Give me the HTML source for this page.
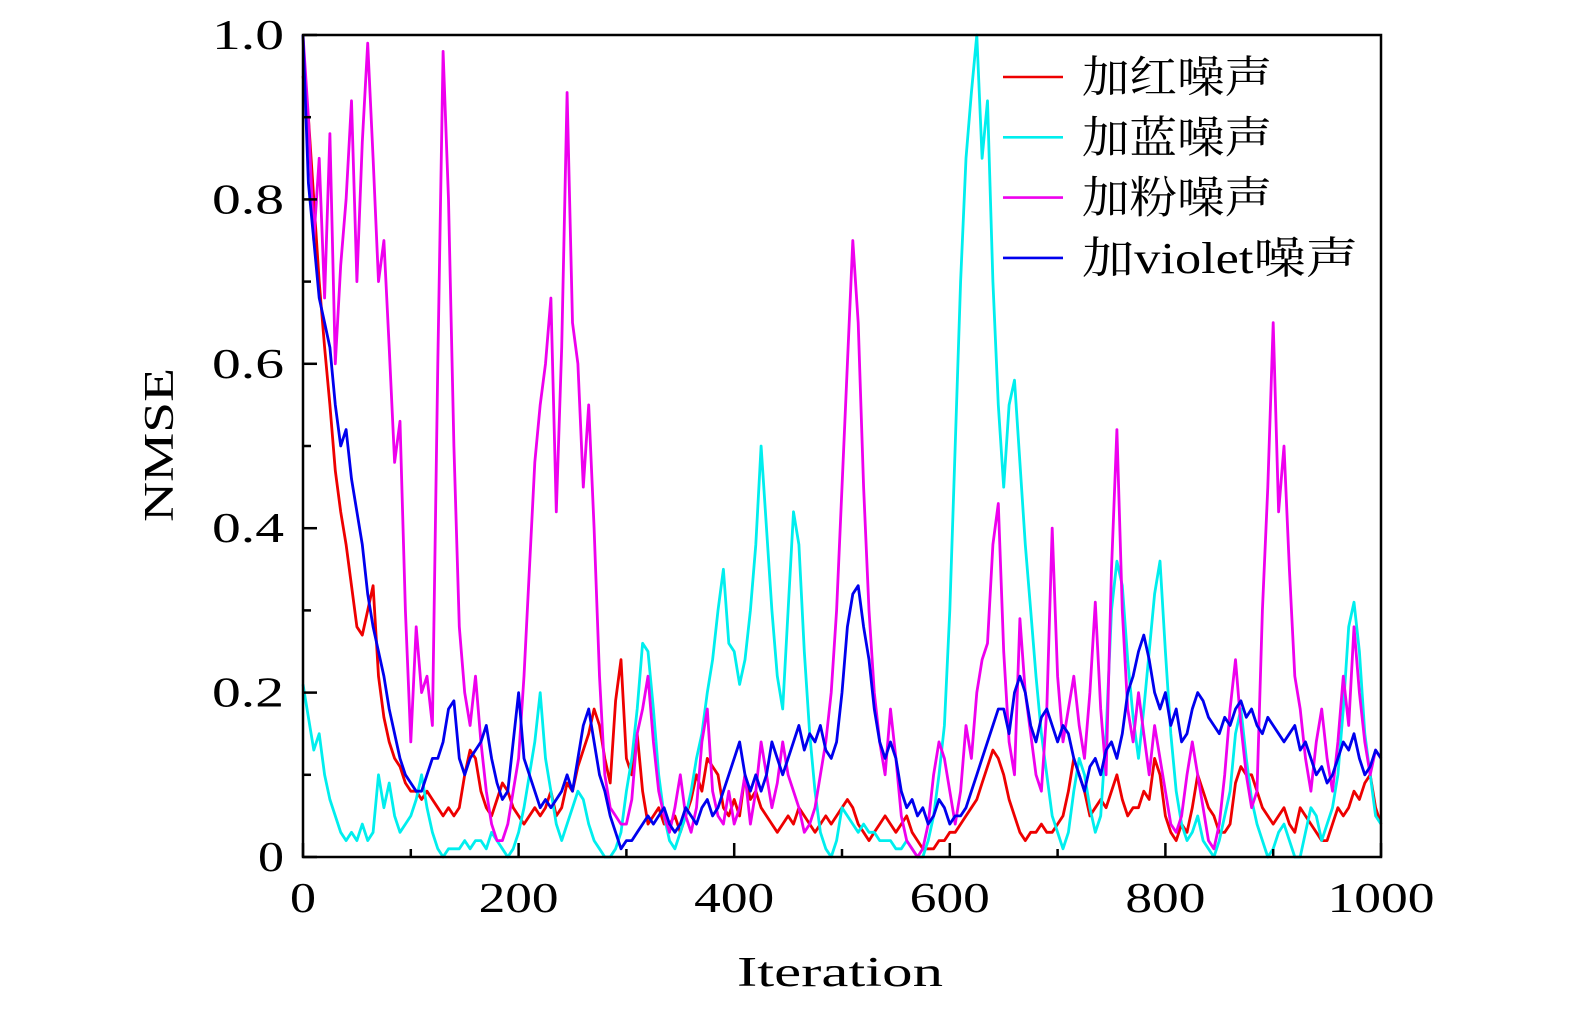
<!DOCTYPE html>
<html><head><meta charset="utf-8"><style>
html,body{margin:0;padding:0;background:#fff;}
svg{display:block;font-family:"Liberation Serif","Noto Serif CJK SC",serif;}
</style></head><body>
<svg id="chart" width="1575" height="1014" viewBox="0 0 1575 1014" xmlns="http://www.w3.org/2000/svg">
<g id="series"></g>
<g id="axes"></g>
<g id="legend"></g>
</svg>
<script>
const iterStep = 5;
const xTicks = [0,200,400,600,800,1000];
const xTickLabels = ["0","200","400","600","800","1000"];
const yTicks = [0,0.2,0.4,0.6,0.8,1.0];
const yTickLabels = ["0","0.2","0.4","0.6","0.8","1.0"];
const seriesNames = ["加红噪声","加蓝噪声","加粉噪声","加violet噪声"];
const seriesColors = ["#ee0000","#00eeee","#ee00ee","#0000ee"];
const redValues = [
.95,.90,.80,.70,.62, .55,.47,.42,.38,.33, .28,.27,.30,.33,.22, .17,.14,.12,.11,.09,
.08,.08,.07,.08,.07, .06,.05,.06,.05,.06, .10,.13,.12,.08,.06, .05,.07,.09,.08,.06,
.05,.04,.05,.06,.05, .06,.08,.05,.06,.09, .08,.11,.13,.15,.18, .16,.12,.09,.19,.24,
.12,.10,.15,.08,.04, .05,.06,.04,.04,.05, .03,.05,.07,.10,.08, .12,.11,.10,.06,.05,
.07,.05,.10,.07,.08, .06,.05,.04,.03,.04, .05,.04,.06,.05,.04, .03,.04,.05,.04,.05,
.06,.07,.06,.04,.03, .02,.03,.04,.05,.04, .03,.04,.05,.03,.02, .01,.01,.01,.02,.02,
.03,.03,.04,.05,.06, .07,.09,.11,.13,.12, .10,.07,.05,.03,.02, .03,.03,.04,.03,.03,
.04,.05,.08,.12,.10, .08,.05,.06,.07,.06, .08,.10,.07,.05,.06, .06,.08,.07,.12,.10,
.05,.03,.02,.04,.03, .06,.10,.08,.06,.05, .03,.03,.04,.09,.11, .10,.10,.08,.06,.05,
.04,.05,.06,.04,.03, .06,.05,.04,.03,.02, .02,.04,.06,.05,.06, .08,.07,.09,.10,.06,
.04];
const blueNoiseValues = [
.21,.17,.13,.15,.10, .07,.05,.03,.02,.03, .02,.04,.02,.03,.10, .06,.09,.05,.03,.04,
.05,.07,.10,.06,.03, .01,.00,.01,.01,.01, .02,.01,.02,.02,.01, .03,.02,.01,.00,.01,
.03,.06,.10,.14,.20, .12,.08,.04,.02,.04, .06,.08,.07,.04,.02, .01,.00,.00,.01,.03,
.08,.12,.18,.26,.25, .18,.10,.05,.02,.01, .03,.05,.08,.12,.15, .20,.24,.30,.35,.26,
.25,.21,.24,.30,.38, .50,.40,.30,.22,.18, .30,.42,.38,.25,.15, .08,.03,.01,.00,.02,
.06,.05,.04,.03,.04, .03,.03,.02,.02,.02, .01,.01,.02,.01,.00, .00,.02,.05,.10,.16,
.30,.50,.70,.85,.93, 1.0,.85,.92,.70,.55, .45,.55,.58,.48,.38, .30,.22,.15,.10,.05,
.03,.01,.03,.08,.12, .10,.06,.03,.05,.15, .30,.36,.33,.24,.17, .12,.18,.25,.32,.36,
.25,.15,.08,.04,.02, .03,.05,.02,.01,.00, .02,.05,.08,.15,.18, .12,.07,.04,.02,.00,
.01,.03,.04,.02,.00, .00,.03,.06,.05,.02, .04,.06,.10,.18,.28, .31,.25,.15,.10,.05,
.04];
const pinkValues = [
1.0,.90,.75,.85,.68, .88,.60,.72,.80,.92, .70,.87,.99,.85,.70, .75,.62,.48,.53,.30,
.14,.28,.20,.22,.16, .60,.98,.80,.50,.28, .20,.16,.22,.14,.08, .04,.02,.02,.04,.08,
.12,.22,.35,.48,.55, .60,.68,.42,.62,.93, .65,.60,.45,.55,.40, .22,.10,.06,.05,.04,
.04,.07,.15,.18,.22, .14,.08,.05,.03,.06, .10,.05,.03,.06,.14, .18,.08,.05,.04,.08,
.04,.06,.10,.04,.08, .14,.10,.06,.09,.14, .10,.08,.06,.03,.04, .06,.10,.14,.20,.30,
.45,.60,.75,.65,.45, .30,.20,.14,.10,.18, .12,.05,.02,.01,.00, .01,.04,.10,.14,.12,
.08,.04,.08,.16,.12, .20,.24,.26,.38,.43, .25,.14,.10,.29,.20, .15,.10,.08,.18,.40,
.22,.14,.18,.22,.16, .12,.20,.31,.18,.10, .35,.52,.30,.18,.14, .20,.15,.10,.16,.12,
.08,.04,.03,.05,.10, .14,.10,.06,.02,.01, .04,.10,.18,.24,.16, .10,.06,.08,.30,.45,
.65,.42,.50,.35,.22, .18,.12,.08,.14,.18, .12,.08,.14,.22,.16, .28,.20,.14,.10,.13,
.12];
const violetValues = [
1.0,.82,.75,.68,.65, .62,.55,.50,.52,.46, .42,.38,.32,.28,.25, .22,.18,.15,.12,.10,
.09,.08,.08,.10,.12, .12,.14,.18,.19,.12, .10,.12,.13,.14,.16, .12,.09,.07,.08,.14,
.20,.12,.10,.08,.06, .07,.06,.07,.08,.10, .08,.12,.16,.18,.14, .10,.08,.05,.03,.01,
.02,.02,.03,.04,.05, .04,.05,.06,.04,.03, .04,.06,.05,.04,.06, .07,.05,.06,.08,.10,
.12,.14,.10,.08,.10, .08,.10,.14,.12,.10, .12,.14,.16,.13,.15, .14,.16,.13,.12,.14,
.20,.28,.32,.33,.28, .24,.18,.14,.12,.14, .12,.08,.06,.07,.05, .06,.04,.05,.07,.06,
.04,.05,.05,.06,.08, .10,.12,.14,.16,.18, .18,.15,.20,.22,.20, .16,.14,.17,.18,.16,
.14,.16,.15,.12,.10, .08,.11,.12,.10,.13, .14,.12,.15,.20,.22, .25,.27,.24,.20,.18,
.20,.16,.18,.14,.15, .18,.20,.19,.17,.16, .15,.17,.16,.18,.19, .17,.18,.16,.15,.17,
.16,.15,.14,.15,.16, .13,.14,.12,.10,.11, .09,.10,.12,.14,.13, .15,.12,.10,.11,.13,
.12];
const allSeries = [redValues, blueNoiseValues, pinkValues, violetValues];
const seriesKeys = ["red-noise","blue-noise","pink-noise","violet-noise"];

const X0=303, X1=1381, Y0=857, Y1=35;
const xScale = v => X0 + (v/1000)*(X1-X0);
const yScale = v => Y0 - (v/1.0)*(Y0-Y1);
const NS="http://www.w3.org/2000/svg";
function mk(tag, attrs, parent){const e=document.createElementNS(NS,tag);for(const k in attrs)e.setAttribute(k,attrs[k]);parent.appendChild(e);return e;}
function fitW(s){return s.length===1?26:(s.length===3?72:104);}

const sg=document.getElementById('series');
allSeries.forEach((vals,si)=>{
  const pts=vals.map((v,i)=>xScale(i*iterStep).toFixed(1)+','+yScale(v).toFixed(1)).join(' ');
  const pl=mk('polyline',{points:pts,fill:'none',stroke:seriesColors[si],'stroke-width':2.8,'stroke-linejoin':'round'},sg);
  
  
});

const ag=document.getElementById('axes');
const frame=mk('rect',{x:X0,y:Y1,width:X1-X0,height:Y0-Y1,fill:'none',stroke:'#000','stroke-width':2.5},ag);


for(let v=0; v<=1000; v+=100){
  const major = v%200===0;
  const t=mk('line',{x1:xScale(v),x2:xScale(v),y1:Y0,y2:Y0-(major?14:8),stroke:'#000','stroke-width':2.5},ag);
  
  
}
for(let k=0;k<=10;k++){
  const v=k/10, major=k%2===0;
  const t=mk('line',{x1:X0,x2:X0+(major?14:8),y1:yScale(v),y2:yScale(v),stroke:'#000','stroke-width':2.5},ag);
  
  
}
xTicks.forEach((v,i)=>{
  const s=xTickLabels[i], w=s.length===1?26:(s.length===3?80:107);
  const t=mk('text',{x:xScale(v)-w/2,y:912,'font-size':42,textLength:w,lengthAdjust:'spacingAndGlyphs'},ag);
  t.textContent=s;
  
  
});
yTicks.forEach((v,i)=>{
  const s=yTickLabels[i], w=fitW(s);
  const t=mk('text',{x:284-w,y:yScale(v)+14,'font-size':42,textLength:w,lengthAdjust:'spacingAndGlyphs'},ag);
  t.textContent=s;
  
  
});
const xt=mk('text',{x:737,y:986,'font-size':42,textLength:206,lengthAdjust:'spacingAndGlyphs'},ag);
xt.textContent='Iteration';


const yt=mk('text',{x:-77,y:0,'font-size':42,textLength:154,lengthAdjust:'spacingAndGlyphs',transform:'translate(173,445) rotate(-90)'},ag);
yt.textContent='NMSE';



const legendWidths=[190,190,190,276];
const lg=document.getElementById('legend');
seriesNames.forEach((n,i)=>{
  const y=77+i*60.3;
  const g=mk('g',{},lg);
  
  
  mk('line',{x1:1003,x2:1063,y1:y,y2:y,stroke:seriesColors[i],'stroke-width':2.6},g);
  const t=mk('text',{x:1082,y:y+15,'font-size':44,textLength:legendWidths[i],lengthAdjust:'spacingAndGlyphs'},g);
  t.textContent=n;
});
</script>
</body></html>
